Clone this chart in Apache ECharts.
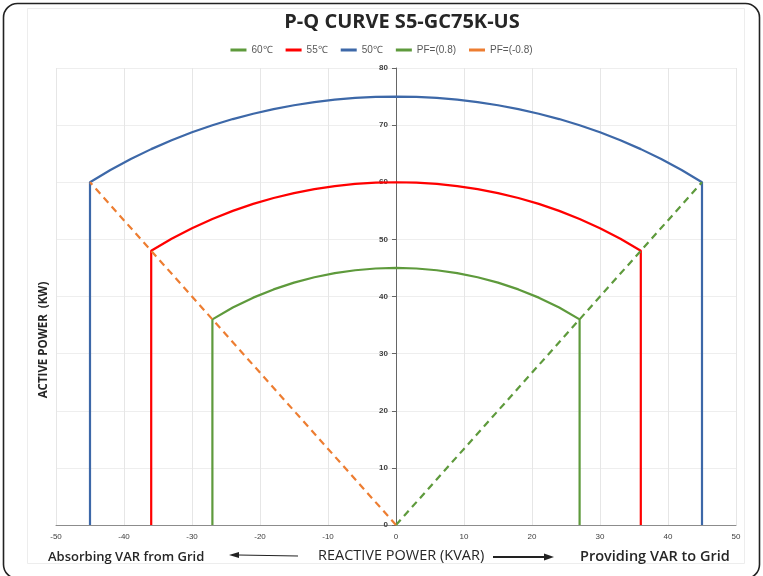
<!DOCTYPE html>
<html>
<head>
<meta charset="utf-8">
<script src="https://cdn.jsdelivr.net/npm/echarts@6/dist/echarts.min.js"></script>
<style>
html,body{margin:0;padding:0;background:#fff;}
#c{width:763px;height:576px;}
</style>
</head>
<body>
<div id="c"></div>
<script>
// Reactive power (KVAR) vs active power (KW) boundary points
const curve60Q = [-27, -27, -24, -21, -18, -15, -12, -9, -6, -3, 0, 3, 6, 9, 12, 15, 18, 21, 24, 27, 27];
const curve60P = [0, 36, 38.07, 39.80, 41.24, 42.43, 43.37, 44.09, 44.60, 44.90, 45, 44.90, 44.60, 44.09, 43.37, 42.43, 41.24, 39.80, 38.07, 36, 0];
const curve55Q = [-36, -36, -33, -30, -27, -24, -21, -18, -15, -12, -9, -6, -3, 0, 3, 6, 9, 12, 15, 18, 21, 24, 27, 30, 33, 36, 36];
const curve55P = [0, 48, 50.11, 51.96, 53.58, 54.99, 56.21, 57.24, 58.09, 58.79, 59.32, 59.70, 59.92, 60, 59.92, 59.70, 59.32, 58.79, 58.09, 57.24, 56.21, 54.99, 53.58, 51.96, 50.11, 48, 0];
const curve50Q = [-45, -45, -42, -39, -36, -33, -30, -27, -24, -21, -18, -15, -12, -9, -6, -3, 0, 3, 6, 9, 12, 15, 18, 21, 24, 27, 30, 33, 36, 39, 42, 45, 45];
const curve50P = [0, 60, 62.14, 64.06, 65.80, 67.35, 68.74, 69.97, 71.06, 72.00, 72.81, 73.48, 74.03, 74.46, 74.76, 74.94, 75, 74.94, 74.76, 74.46, 74.03, 73.48, 72.81, 72.00, 71.06, 69.97, 68.74, 67.35, 65.80, 64.06, 62.14, 60, 0];
const pfPosQ = [0, 45];
const pfPosP = [0, 60];
const pfNegQ = [0, -45];
const pfNegP = [0, 60];
const seriesNames = ['60℃', '55℃', '50℃', 'PF=(0.8)', 'PF=(-0.8)'];

const zip = (a, b) => a.map((v, i) => [v, b[i]]);
const cGreen = '#5E9A3C', cRed = '#FF0000', cBlue = '#3D68A8', cOrange = '#ED7D31';

const chart = echarts.init(document.getElementById('c'));
const lineS = (name, data, color, dashed) => ({
  name, type: 'line', data, showSymbol: false, symbol: 'none',
  smooth: false, animation: false,
  lineStyle: { color, width: 2.2, type: dashed ? [7, 5] : 'solid' },
  itemStyle: { color }
});

chart.setOption({
  animation: false,
  backgroundColor: '#fff',
  title: {
    text: 'P-Q CURVE S5-GC75K-US', left: 397, top: 7, textAlign: 'center',
    textStyle: { fontFamily: 'Open Sans', fontWeight: 'bold', fontSize: 20, color: '#262626' }
  },
  legend: {
    data: seriesNames, top: 40, left: 'center', itemWidth: 16, itemHeight: 3, itemGap: 13,
    textStyle: { fontFamily: 'Liberation Sans Narrow, Liberation Sans', fontSize: 10, color: '#595959' },
    icon: 'rect'
  },
  grid: { left: 56, right: 27, top: 68, bottom: 51, containLabel: false },
  xAxis: {
    type: 'value', min: -50, max: 50, interval: 10,
    axisLine: { onZero: true, lineStyle: { color: '#8c8c8c' } },
    axisTick: { show: false },
    axisLabel: { fontSize: 8, color: '#404040', margin: 8, fontFamily: 'Liberation Sans Narrow, Liberation Sans' },
    splitLine: { show: true, lineStyle: { color: '#e6e6e6' } }
  },
  yAxis: {
    type: 'value', min: 0, max: 80, interval: 10, position: 'left', offset: -340,
    axisLine: { show: true, onZero: false, lineStyle: { color: '#666' } },
    axisTick: { show: true, length: 4, lineStyle: { color: '#666' } },
    axisLabel: { fontSize: 8, color: '#404040', margin: 8, fontFamily: 'Liberation Sans Narrow, Liberation Sans', fontWeight: 'bold' },
    splitLine: { show: true, lineStyle: { color: '#eeeeee' } }
  },
  graphic: [
    { type: 'rect', shape: { x: 3.5, y: 3.5, width: 756, height: 575, r: 14 }, style: { fill: 'none', stroke: '#222', lineWidth: 1.6 }, z: -10 },
    { type: 'rect', shape: { x: 27.5, y: 8.5, width: 717, height: 555 }, style: { fill: 'none', stroke: '#ededed', lineWidth: 1 }, z: -9 },
    { type: 'text', x: 44, y: 340, rotation: Math.PI / 2, style: { text: 'ACTIVE POWER  (KW)', fontFamily: 'Open Sans', fontSize: 11.5, fontWeight: 'bold', fill: '#262626', align: 'center', verticalAlign: 'middle' } },
    { type: 'text', x: 48, y: 557, style: { text: 'Absorbing VAR from Grid', fontFamily: 'Open Sans', fontSize: 13, fontWeight: 600, fill: '#262626', verticalAlign: 'middle' } },
    { type: 'text', x: 318, y: 556, style: { text: 'REACTIVE POWER (KVAR)', fontFamily: 'Open Sans', fontSize: 14.5, fill: '#262626', verticalAlign: 'middle' } },
    { type: 'text', x: 580, y: 557, style: { text: 'Providing VAR to Grid', fontFamily: 'Open Sans', fontSize: 14.5, fontWeight: 600, fill: '#262626', verticalAlign: 'middle' } },
    { type: 'line', shape: { x1: 238, y1: 555, x2: 298, y2: 556 }, style: { stroke: '#222', lineWidth: 1.2 } },
    { type: 'polygon', shape: { points: [[229, 555], [239, 552], [239, 558]] }, style: { fill: '#222' } },
    { type: 'line', shape: { x1: 493, y1: 557, x2: 545, y2: 557 }, style: { stroke: '#222', lineWidth: 2 } },
    { type: 'polygon', shape: { points: [[554, 557], [544, 553.5], [544, 560.5]] }, style: { fill: '#222' } }
  ],
  series: [
    lineS(seriesNames[0], zip(curve60Q, curve60P), cGreen, false),
    lineS(seriesNames[1], zip(curve55Q, curve55P), cRed, false),
    lineS(seriesNames[2], zip(curve50Q, curve50P), cBlue, false),
    lineS(seriesNames[3], zip(pfPosQ, pfPosP), cGreen, true),
    lineS(seriesNames[4], zip(pfNegQ, pfNegP), cOrange, true)
  ]
});
</script>
</body>
</html>
